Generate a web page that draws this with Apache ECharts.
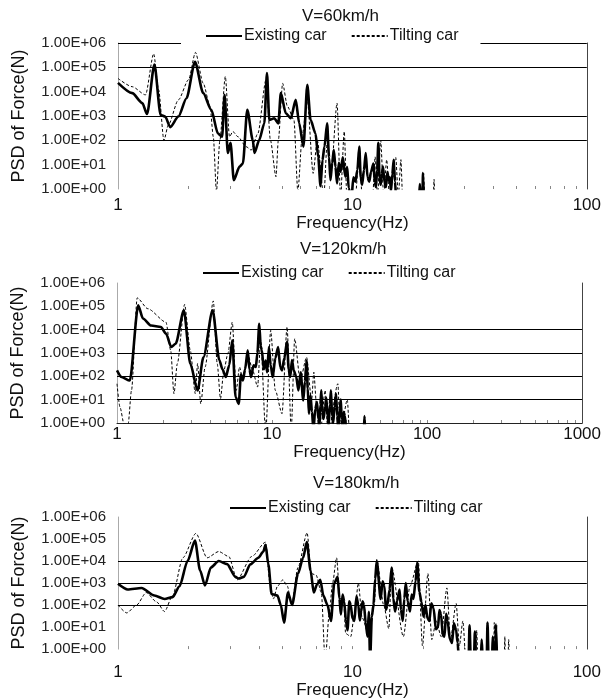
<!DOCTYPE html>
<html>
<head>
<meta charset="utf-8">
<script src="https://cdn.jsdelivr.net/npm/echarts@6/dist/echarts.min.js"></script>
<style>
html,body{margin:0;padding:0;background:#fff;}
#main{width:604px;height:700px;}
</style>
</head>
<body>
<div id="main"></div>
<script>
// [frequency(Hz), PSD of force(N)]
var exist60 = [[1.00,2.3e4],[1.15,8.7e3],[1.27,3.4e3],[1.33,1.2e3],[1.43,1.3e5],[1.52,1.1e3],[1.59,9.5e2],[1.67,3.5e2],[1.81,9.5e2],[1.96,5.4e3],[2.13,1.7e5],[2.31,8.7e3],[2.50,1.8e3],[2.67,1.9e2],[2.78,1.4e2],[2.85,7.4e3],[2.94,30],[3.02,80],[3.12,2.3],[3.30,8.3],[3.41,11],[3.56,1.8e3],[3.76,1.0e2],[3.82,30],[4.00,1.0e2],[4.21,5.0e2],[4.32,5.8e4],[4.42,6.9e2],[4.64,8.1e2],[4.83,5.0e2],[4.95,8.7e3],[5.20,1.3e3],[5.46,8.1e2],[5.73,4.6e3],[5.93,5.0e2],[6.18,55],[6.42,1.9e4],[6.63,6.9e2],[6.96,1.9e2],[7.15,20],[7.31,1.3],[7.45,15],[7.60,55],[7.80,5.0e2],[7.95,20],[8.06,2.3],[8.20,12],[8.33,40],[8.47,8],[8.60,1.7],[8.75,12],[8.90,5.1],[9.10,20],[9.33,3.2],[9.50,8],[9.64,1.1],[9.90,0.4],[10.1,3],[10.3,2.0],[10.5,6],[10.7,55],[10.85,3],[11.0,1.5],[11.2,6],[11.4,30],[11.6,3],[11.8,2.0],[12.0,5],[12.3,11],[12.45,2],[12.6,1.2],[12.75,6],[12.9,80],[13.05,3],[13.2,1.5],[13.35,4],[13.5,8.3],[13.7,2],[13.9,1.2],[14.1,5],[14.3,2.3],[14.45,3],[14.6,0.8],[14.8,4],[15.0,16],[15.2,2],[15.4,0.3],[19.2,0.3],[19.4,1.6],[19.6,0.3],[19.9,0.3],[20.0,4.5],[20.2,0.3]];
var tilt60 = [[1.00,3.5e4],[1.15,1.6e4],[1.31,7.4e3],[1.42,3.6e5],[1.49,1.2e4],[1.57,1.0e2],[1.64,4.3e2],[1.81,4.6e3],[2.00,3.1e4],[2.14,4.1e5],[2.31,2.2e4],[2.47,2.5e3],[2.55,1.4e2],[2.63,0.8],[2.72,1.0e2],[2.87,4.2e4],[2.99,1.4e2],[3.09,2.3e2],[3.25,1.4e2],[3.52,55],[3.70,40],[3.95,1.9e2],[4.28,3.1e4],[4.47,1.0e2],[4.72,3.2],[4.83,1.0e2],[5.04,2.2e4],[5.28,2.5e3],[5.63,6.9e2],[5.85,0.8],[6.12,1.9e2],[6.42,4.6e3],[6.80,4.4],[7.08,1.0e2],[7.55,0.5],[7.80,76],[8.11,4.5],[8.60,3.4e3],[8.90,0.5],[9.23,2.3e2],[9.47,0.5],[10.3,0.5],[10.7,40],[11.0,0.5],[12.2,0.5],[12.5,21],[12.8,0.5],[13.2,1.0e2],[13.6,0.5],[14.0,16],[14.4,0.5],[15.3,20],[15.7,0.5],[16.1,16],[16.4,0.3],[19.9,0.3],[20.1,4.5],[20.4,0.3],[22.1,0.3],[22.3,2.5],[22.5,0.3]];

var exist120 = [[1.00,1.8e2],[1.07,93],[1.21,66],[1.37,1.1e5],[1.47,3.0e4],[1.66,1.5e4],[1.92,1.3e4],[2.07,6.8e3],[2.24,1.8e3],[2.39,2.5e3],[2.70,6.8e4],[2.97,3.5e2],[3.31,25],[3.61,6.6e2],[4.14,6.8e4],[4.57,5.0e2],[4.79,2.0e2],[5.03,93],[5.30,3.0e2],[5.54,3.5e3],[5.82,13],[6.10,6.6],[6.30,1.2e2],[6.49,66],[6.70,2.0e2],[6.97,1.3e3],[7.15,2.0e2],[7.33,93],[7.60,3.0e2],[7.86,2.5e2],[8.05,1.0e3],[8.27,1.8e4],[8.45,2.0e3],[8.60,1.3e3],[8.85,2.0e2],[9.10,4.8e2],[9.30,1.5e2],[9.55,1.8e3],[9.80,3.0e2],[10.1,93],[10.5,6.0e2],[10.95,1.8e3],[11.3,2.5e2],[11.6,1.8e2],[12.0,6.0e2],[12.5,3.0e3],[12.8,2.0e2],[13.1,93],[13.45,5.0e2],[13.8,1.8e2],[14.3,1.0e2],[14.8,25],[15.3,1.5e2],[15.9,9.3],[16.3,60],[16.7,4.8e2],[17.0,30],[17.3,2.5],[17.7,15],[18.1,3],[18.5,0.5],[19.0,4],[19.5,8],[19.9,1.5],[20.2,0.6],[20.5,6],[20.8,25],[21.1,3],[21.5,1.5],[22.0,5],[22.4,12],[22.8,2],[23.2,0.8],[23.6,6],[24.0,25],[24.4,2],[24.8,1.0],[25.3,5],[25.9,18],[26.3,2],[26.8,0.5],[27.3,4],[27.8,10],[28.1,1.5],[28.5,0.5],[29.0,3],[29.5,2],[30.0,0.6],[30.5,0.3],[39.0,0.3],[39.5,2],[40.0,0.3]];
var tilt120 = [[1.00,48],[1.045,4.8],[1.11,0.9],[1.18,0.9],[1.24,25],[1.35,2.3e5],[1.58,7.9e4],[2.07,2.1e4],[2.22,1.3e3],[2.33,18],[2.45,3.5e2],[2.73,1.2e5],[2.97,1.3e3],[3.20,18],[3.31,3.5e2],[3.47,6.6],[3.70,2.5e2],[4.18,1.7e5],[4.43,3.5e2],[4.65,11],[4.89,1.8e2],[5.20,1.0e3],[5.54,2.1e4],[5.88,25],[6.17,2.5e2],[6.49,66],[6.97,9.3e2],[7.50,1.8e2],[8.07,35],[8.45,3.5e3],[9.10,0.4],[9.80,9.3e3],[10.5,25],[11.6,2.5],[12.5,1.3e4],[13.3,0.5],[14.0,4.1e3],[15.2,66],[16.7,6.6e2],[18.0,9.3],[18.6,1.5e2],[19.4,4.8],[20.5,0.4],[22.0,25],[23.0,0.3],[26.6,48],[27.5,0.3],[30.6,10],[31.5,0.3]];

var exist180 = [[1.00,9.3e2],[1.10,5.1e2],[1.26,6.0e2],[1.43,2.7e2],[1.58,1.9e2],[1.71,2.3e2],[1.83,7.2e2],[1.98,1.0e4],[2.13,8.5e4],[2.24,3.7e3],[2.35,7.8e2],[2.49,5.1e3],[2.69,1.0e4],[2.92,7.2e3],[3.17,1.9e3],[3.27,1.6e3],[3.44,1.9e3],[3.67,7.1e3],[3.97,1.4e4],[4.17,2.7e4],[4.26,5.5e4],[4.38,7.1e3],[4.52,3.2e2],[4.79,2.7e2],[4.95,1.0e2],[5.11,16],[5.31,3.7e2],[5.53,1.0e2],[5.86,2.7e3],[6.16,1.4e4],[6.39,7.2e4],[6.63,3.7e3],[6.84,3.7e2],[7.06,8.5e2],[7.29,1.4e3],[7.52,2.7e2],[7.83,1.0e2],[8.10,19],[8.37,1.0e3],[8.65,1.9e3],[8.80,2.0e2],[8.93,37],[9.08,3.0e2],[9.23,1.4e2],[9.38,20],[9.53,7.2],[9.70,1.5e2],[9.84,1.0e2],[10.0,25],[10.2,19],[10.4,2.5e2],[10.6,1.0e2],[10.75,20],[10.9,51],[11.05,1.5e2],[11.2,1.0e2],[11.4,15],[11.6,3.7],[11.75,50],[11.9,0.3],[12.1,30],[12.3,1.0e2],[12.5,1.5e3],[12.7,1.0e4],[13.2,1.9e2],[13.45,1.2e3],[13.7,7.2e2],[13.9,60],[14.1,1.0e2],[14.4,5.0e2],[14.7,5.1e3],[14.95,2.0e2],[15.2,51],[15.5,1.5e2],[15.9,5.1e2],[16.1,60],[16.4,19],[16.65,2.0e2],[16.9,1.0e3],[17.2,1.5e2],[17.6,51],[17.9,3.0e2],[18.2,1.9e2],[18.6,1.2e3],[18.9,8.5e3],[19.3,4.0e2],[19.7,1.4e2],[20.1,30],[20.5,1.0e2],[20.9,25],[21.3,19],[21.7,1.2e2],[22.2,72],[22.7,8],[23.2,10],[23.5,60],[23.9,37],[24.3,4],[24.7,3.7],[25.1,40],[25.5,19],[26.0,3],[26.6,1.9],[27.1,15],[27.7,7.2],[28.1,2],[28.5,0.3],[31.3,0.3],[31.6,12],[32.0,0.3],[33.0,0.3],[33.3,6.2],[33.7,0.3],[35.3,0.3],[35.6,2.7],[36.0,0.3],[37.4,0.3],[37.7,16],[38.1,0.3],[39.4,0.3],[39.7,3.7],[40.1,0.3],[40.7,0.3],[41.0,13],[41.4,0.3]];
var tilt180 = [[1.00,1.0e2],[1.09,44],[1.20,1.0e2],[1.32,3.7e2],[1.46,1.4e2],[1.58,51],[1.71,2.7e2],[1.89,1.4e4],[2.15,1.8e5],[2.40,1.4e4],[2.69,2.7e4],[2.97,1.6e4],[3.22,1.4e3],[3.72,1.6e4],[4.26,7.2e4],[4.45,1.0e3],[4.60,1.9e2],[4.79,7.2e2],[5.05,1.4e3],[5.28,7.2e2],[5.50,1.0e2],[5.86,5.1e3],[6.41,1.9e5],[6.68,2.7e3],[7.00,2.3e3],[7.37,3.7e2],[7.65,0.3],[7.98,51],[8.23,1.0e3],[8.56,1.4e4],[8.85,1.9e2],[9.15,2.7e2],[9.36,5.1],[9.84,3.7],[10.2,37],[10.6,1.0e3],[11.0,27],[11.8,3.7],[12.4,1.0e2],[12.7,1.2e4],[13.6,1.0e2],[14.3,8.5],[14.7,5.1e3],[16.5,3.7],[17.6,7.2e2],[19.1,1.0e4],[19.9,1.4],[21.0,2.7e3],[21.8,2.7],[22.8,19],[23.9,3.7],[25.3,6.0e2],[26.2,2.7],[27.7,1.2e2],[28.6,1.4],[29.6,19],[30.5,0.3],[33.6,0.3],[33.9,7.2],[34.3,0.3],[40.0,0.3],[40.3,16],[40.7,0.3],[44.4,0.3],[44.7,3.7],[45.0,0.3],[46.1,0.3],[46.4,2.7],[46.8,0.3]];

var titles = ['V=60km/h', 'V=120km/h', 'V=180km/h'];
var seriesNames = ['Existing car', 'Tilting car'];
var yLabelVals = [1, 10, 100, 1e3, 1e4, 1e5, 1e6];
var xLabelVals = [[1, 10, 100], [1, 10, 100, 1000], [1, 10, 100]];
var xMinorTicks = [
  [2,3,4,5,6,7,8,9,10,20,30,40,50,60,70,80,90],
  [2,3,4,5,6,7,8,9,10,20,30,40,50,60,70,80,90,100,200,300,400,500,600,700,800,900],
  [2,3,4,5,6,7,8,9,10,20,30,40,50,60,70,80,90]
];
var gridVals = [[1e6, 1e5, 1e3, 1e2], [1e4, 1e3, 1e2, 1e1], [1e4, 1e3, 1e2]];

// layout of the three panels
var panels = [
  {exist: exist60, tilt: tilt60, xMax: 100, left: 118, top: 43, width: 474, height: 146,
   titleLeft: 302, titleTop: 8, legendLeft: 181, legendTop: 26, labelMargin: 8, nameGap: 23, bottomLine: false},
  {exist: exist120, tilt: tilt120, xMax: 1000, left: 117, top: 283, width: 473, height: 140,
   titleLeft: 300, titleTop: 241, legendLeft: 178, legendTop: 263, labelMargin: 3, nameGap: 20, bottomLine: true},
  {exist: exist180, tilt: tilt180, xMax: 100, left: 118, top: 517, width: 474, height: 140,
   titleLeft: 313, titleTop: 475, legendLeft: 205, legendTop: 498, labelMargin: 15, nameGap: 25, bottomLine: false}
];

var FONT = 'Liberation Sans, Arial, sans-serif';

function sciLabel(v) {
  var e = Math.round(Math.log10(v));
  return '1.00E+' + (e < 10 ? '0' + e : e);
}

var option = {
  animation: false,
  backgroundColor: '#fff',
  textStyle: { fontFamily: FONT },
  title: [], legend: [], grid: [], xAxis: [], yAxis: [], series: []
};

panels.forEach(function (p, i) {
  option.title.push({
    text: titles[i], left: p.titleLeft, top: p.titleTop, padding: 0,
    textStyle: { fontSize: 17, fontWeight: 'normal', color: '#111', fontFamily: FONT }
  });
  option.legend.push({
    data: seriesNames, left: p.legendLeft, top: p.legendTop, z: 20,
    padding: [2, 22, 6, 24], itemGap: 24, itemWidth: 36, itemHeight: 12,
    backgroundColor: '#fff', selectedMode: false,
    itemStyle: { opacity: 0 },
    textStyle: { fontSize: 16, color: '#111', fontFamily: FONT, padding: [0, 0, 0, -3] }
  });
  option.grid.push({ left: p.left, top: p.top, width: p.width, height: p.height, containLabel: false });
  option.xAxis.push({
    type: 'log', logBase: 10, gridIndex: i, min: 1, max: p.xMax,
    name: 'Frequency(Hz)', nameLocation: 'middle', nameGap: p.nameGap,
    nameTextStyle: { fontSize: 17, color: '#111', fontFamily: FONT },
    axisLine: { show: p.bottomLine, lineStyle: { color: '#222', width: 1 } },
    axisTick: { show: true, inside: true, length: 3, customValues: xMinorTicks[i], lineStyle: { color: '#888' } },
    axisLabel: { customValues: xLabelVals[i], formatter: function (v) { return String(v); },
      fontSize: 17, color: '#111', margin: p.labelMargin, fontFamily: FONT },
    splitLine: { show: false }, minorTick: { show: false }
  });
  option.yAxis.push({
    type: 'log', logBase: 10, gridIndex: i, min: 1, max: 1e6, position: 'left',
    name: 'PSD of Force(N)', nameLocation: 'middle', nameGap: 90,
    nameTextStyle: { fontSize: 18, color: '#111', fontFamily: FONT },
    axisLine: { show: true, lineStyle: { color: '#aaa', width: 1 } },
    axisTick: { show: false },
    axisLabel: { customValues: yLabelVals, formatter: sciLabel, fontSize: 15, color: '#222', margin: 12, fontFamily: FONT },
    splitLine: { show: false }
  });
  option.yAxis.push({
    type: 'log', logBase: 10, gridIndex: i, min: 1, max: 1e6, position: 'right',
    axisLine: { show: true, lineStyle: { color: '#444', width: 1 } },
    axisTick: { show: false }, axisLabel: { show: false }, splitLine: { show: false }
  });
  option.series.push({
    name: seriesNames[0], type: 'line', xAxisIndex: i, yAxisIndex: 2 * i,
    data: p.exist, symbol: 'none', clip: true, z: 3,
    smooth: 0.25, smoothMonotone: 'x',
    lineStyle: { color: '#000', width: 2.6 },
    markLine: {
      silent: true, symbol: ['none', 'none'], label: { show: false }, z: 1,
      lineStyle: { color: '#000', width: 1, type: 'solid' },
      data: gridVals[i].map(function (v) { return { yAxis: v }; })
    }
  });
  option.series.push({
    name: seriesNames[1], type: 'line', xAxisIndex: i, yAxisIndex: 2 * i,
    data: p.tilt, symbol: 'none', clip: true, z: 2,
    smooth: 0.25, smoothMonotone: 'x',
    lineStyle: { color: '#000', width: 1, type: [3, 2] }
  });
});

var myChart = echarts.init(document.getElementById('main'));
myChart.setOption(option);
</script>
</body>
</html>
